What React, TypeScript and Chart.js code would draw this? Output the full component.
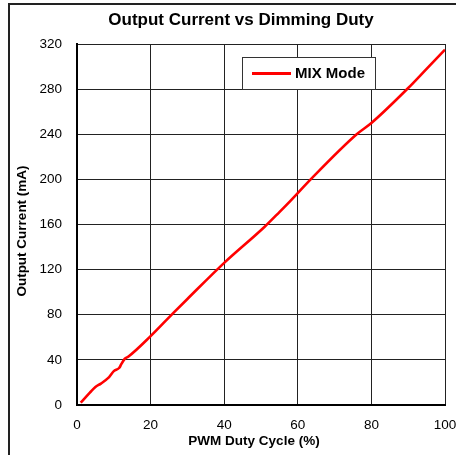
import React, { useEffect, useRef } from "react";
import { Chart, registerables } from "chart.js";

Chart.register(...registerables);

const chartTitle = "Output Current vs Dimming Duty";
const xAxisTitle = "PWM Duty Cycle (%)";
const yAxisTitle = "Output Current (mA)";
const seriesLabel = "MIX Mode";

const dutyCycle = [1, 3.5, 5, 6.5, 8.5, 10, 11.5, 12, 13, 14, 20, 26, 30, 40, 51, 55, 58, 63.5, 76, 80, 90, 95, 100];
const outputCurrent = [2, 11, 16, 19, 24, 30, 33, 36, 41, 43, 61, 81, 94, 126, 158, 171, 181, 200, 240, 250, 281, 298, 315];

const FONT = "'Liberation Sans', Arial, Helvetica, sans-serif";

const decorPlugin = {
  id: "decor",
  beforeDraw(chart: any) {
    const ctx = chart.ctx;
    ctx.save();
    ctx.strokeStyle = "#222";
    ctx.lineWidth = 2;
    ctx.beginPath();
    ctx.moveTo(9, 456);
    ctx.lineTo(9, 4);
    ctx.lineTo(458, 4);
    ctx.stroke();
    ctx.restore();
  },
  afterDraw(chart: any) {
    const ctx = chart.ctx;
    ctx.save();
    ctx.fillStyle = "#000";
    ctx.textAlign = "center";
    ctx.textBaseline = "middle";
    ctx.font = `bold 17px ${FONT}`;
    ctx.fillText(chartTitle, 241, 20);
    ctx.font = `bold 13.5px ${FONT}`;
    ctx.fillText(xAxisTitle, 254, 441);
    ctx.save();
    ctx.translate(22.5, 231);
    ctx.rotate(-Math.PI / 2);
    ctx.fillText(yAxisTitle, 0, 0);
    ctx.restore();

    // legend box
    const ds = chart.data.datasets[0];
    ctx.fillStyle = "#fff";
    ctx.fillRect(242, 57, 133, 32);
    ctx.strokeStyle = "#333";
    ctx.lineWidth = 1;
    ctx.strokeRect(242.5, 57.5, 133, 32);
    ctx.strokeStyle = ds.borderColor;
    ctx.lineWidth = 3;
    ctx.beginPath();
    ctx.moveTo(252, 73.5);
    ctx.lineTo(291, 73.5);
    ctx.stroke();
    ctx.fillStyle = "#000";
    ctx.textAlign = "left";
    ctx.font = `bold 15px ${FONT}`;
    ctx.fillText(ds.label, 295, 74);
    ctx.restore();
  },
};

export default function App() {
  const ref = useRef<HTMLCanvasElement | null>(null);

  useEffect(() => {
    document.body.style.margin = "0";
    if (!ref.current) return;
    const points = dutyCycle.map((x, i) => ({ x, y: outputCurrent[i] }));
    const chart = new Chart(ref.current, {
      type: "line",
      data: {
        datasets: [
          {
            label: seriesLabel,
            data: points,
            borderColor: "#ff0000",
            borderWidth: 2.6,
            pointRadius: 0,
            cubicInterpolationMode: "monotone",
            fill: false,
          },
        ],
      },
      options: {
        animation: false,
        responsive: false,
        devicePixelRatio: 1,
        layout: { padding: { top: 44, right: 0, left: 0, bottom: 0 } },
        plugins: {
          legend: { display: false },
          title: { display: false },
          tooltip: { enabled: false },
        },
        scales: {
          x: {
            type: "linear",
            min: 0,
            max: 100,
            afterFit: (s: any) => {
              s.height = 50;
              s.paddingRight = 11;
            },
            ticks: {
              stepSize: 20,
              padding: 12,
              color: "#000",
              font: { family: FONT, size: 13.5 },
              maxRotation: 0,
            },
            grid: { color: "#222", lineWidth: 1, drawTicks: false },
            border: { display: true, color: "#000", width: 2 },
          },
          y: {
            type: "linear",
            min: 0,
            max: 320,
            afterFit: (s: any) => {
              s.width = 77;
            },
            ticks: {
              stepSize: 40,
              padding: 15,
              color: "#000",
              font: { family: FONT, size: 13.5 },
            },
            grid: { color: "#222", lineWidth: 1, drawTicks: false },
            border: { display: true, color: "#000", width: 2 },
          },
        },
      },
      plugins: [decorPlugin],
    });
    return () => chart.destroy();
  }, []);

  return (
    <div style={{ width: 456, height: 455, background: "#fff" }}>
      <canvas ref={ref} width={456} height={455} style={{ display: "block" }} />
    </div>
  );
}
